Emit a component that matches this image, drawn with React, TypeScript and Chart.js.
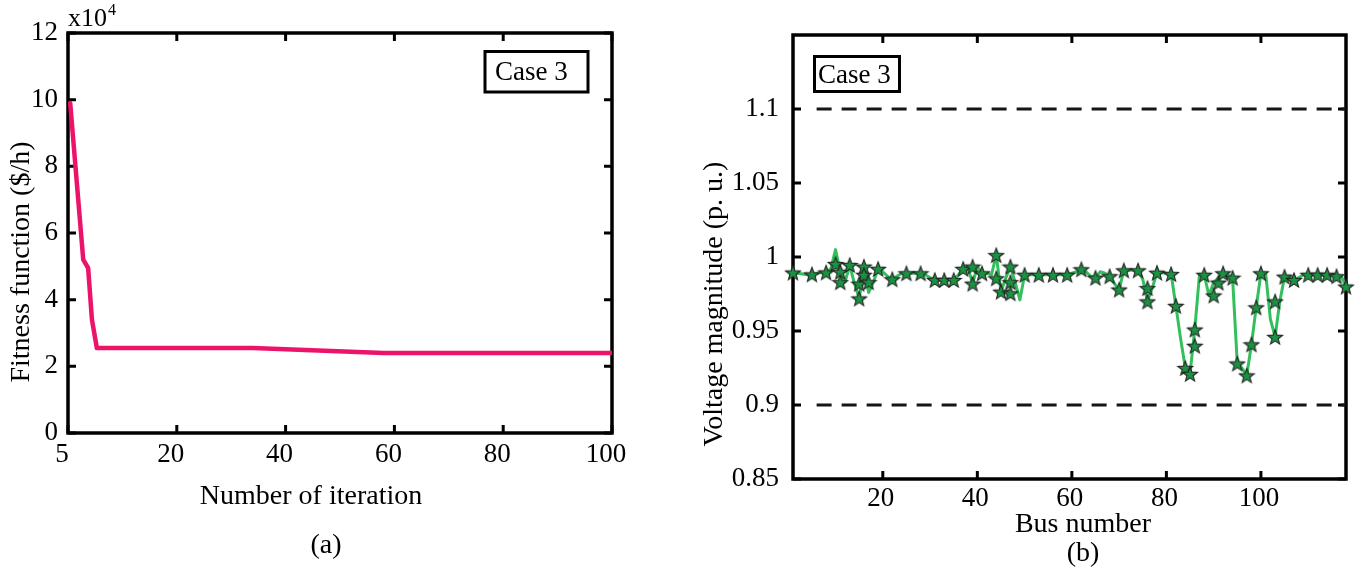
import React, { useEffect, useRef } from 'react';
import { Chart, registerables } from 'chart.js';

Chart.register(...registerables);

const SERIF = '"Liberation Serif", "Times New Roman", serif';
const PINK = '#ec1469';
const LINE_GREEN = '#33bf5c';
const STAR_GREEN = '#1b9142';

// ---------- Panel (a): fitness convergence ----------
const iterations = [0.4, 2.8, 3.7, 4.4, 5.3, 34, 58, 100];
const fitness = [9.9, 5.2, 4.95, 3.4, 2.55, 2.55, 2.4, 2.4]; // x10^4 $/h
const iterTicks = [0, 20, 40, 60, 80, 100];
const iterTickLabels = ['5', '20', '40', '60', '80', '100'];
const fitnessTicks = [0, 2, 4, 6, 8, 10, 12];

// ---------- Panel (b): bus voltage profile ----------
const busNumbers = Array.from({ length: 118 }, (_, i) => i + 1);
const busVoltage = [
  0.989, 0.989, 0.9885, 0.988, 0.988, 0.9888, 0.9895, 0.9895, 0.992, 1.005,
  0.99, 0.983, 0.9945, 0.982, 0.972, 0.9935, 0.976, 0.983, 0.992, 0.99,
  0.987, 0.985, 0.987, 0.989, 0.989, 0.989, 0.989, 0.989, 0.988, 0.986,
  0.9845, 0.9845, 0.9845, 0.985, 0.9845, 0.988, 0.992, 0.993, 0.982, 0.9935,
  0.989, 0.989, 0.988, 1.0013, 0.9766, 0.9856, 0.9935, 0.983, 0.971, 0.988,
  0.988, 0.988, 0.988, 0.988, 0.988, 0.988, 0.988, 0.988, 0.988, 0.989,
  0.99, 0.9917, 0.99, 0.987, 0.986, 0.99, 0.989, 0.987, 0.982, 0.978,
  0.991, 0.991, 0.991, 0.991, 0.985, 0.97, 0.979, 0.9894, 0.9894, 0.989,
  0.9885, 0.967, 0.945, 0.925, 0.921, 0.951, 0.988, 0.988, 0.974, 0.9827,
  0.986, 0.989, 0.988, 0.986, 0.928, 0.925, 0.92, 0.941, 0.966, 0.989,
  0.989, 0.958, 0.946, 0.97, 0.9867, 0.987, 0.9845, 0.986, 0.988, 0.988,
  0.988, 0.988, 0.988, 0.988, 0.988, 0.987, 0.987, 0.98,
];
const starBus = [
  1, 5, 8, 10, 11, 11, 13, 15, 15, 16, 16, 17, 19, 22, 25, 28, 31, 33, 35, 37,
  39, 39, 41, 44, 44, 45, 47, 47, 47, 50, 53, 56, 59, 62, 65, 68, 70, 71, 74, 76,
  76, 78, 81, 82, 84, 85, 86, 86, 88, 90, 91, 92, 94, 95, 97, 98, 99, 100, 103, 103,
  105, 107, 110, 112, 114, 116, 118,
];
const starVoltage = [
  0.9895, 0.9883, 0.9896, 0.9953, 0.99, 0.983, 0.9946, 0.982, 0.972, 0.9935,
  0.988, 0.983, 0.992, 0.985, 0.989, 0.989, 0.9845, 0.9845, 0.9845, 0.992,
  0.9935, 0.982, 0.989, 1.0013, 0.9856, 0.9766, 0.9935, 0.983, 0.9755, 0.988,
  0.988, 0.988, 0.988, 0.9917, 0.986, 0.987, 0.978, 0.991, 0.991, 0.979,
  0.97, 0.9894, 0.9885, 0.967, 0.925, 0.921, 0.951, 0.94, 0.988, 0.974,
  0.9827, 0.989, 0.986, 0.928, 0.92, 0.941, 0.966, 0.989, 0.946, 0.97,
  0.9867, 0.9845, 0.988, 0.988, 0.988, 0.987, 0.98,
];
const limitBus = [6, 118];
const upperLimit = [1.1, 1.1];
const lowerLimit = [0.9, 0.9];
const busTicks = [20, 40, 60, 80, 100];
const voltageTicks = [0.85, 0.9, 0.95, 1, 1.05, 1.1];

type Txt = { text: string; x: number; y: number; size: number; rot?: boolean; align?: CanvasTextAlign; baseline?: CanvasTextBaseline };
type Box = { x: number; y: number; w: number; h: number; text: string; tx: number; ty: number };

function makeStar(): HTMLCanvasElement {
  const c = document.createElement('canvas');
  const s = 18;
  c.width = s;
  c.height = s;
  const g = c.getContext('2d')!;
  const cx = s / 2, cy = s / 2 + 0.8, R = 7.8, r = 3.3;
  g.beginPath();
  for (let k = 0; k < 10; k++) {
    const ang = -Math.PI / 2 + (k * Math.PI) / 5;
    const rad = k % 2 === 0 ? R : r;
    const px = cx + rad * Math.cos(ang);
    const py = cy + rad * Math.sin(ang);
    if (k === 0) g.moveTo(px, py); else g.lineTo(px, py);
  }
  g.closePath();
  g.fillStyle = STAR_GREEN;
  g.fill();
  g.lineWidth = 1.1;
  g.strokeStyle = '#222';
  g.stroke();
  return c;
}

function makeDecor(id: string, texts: Txt[], boxes: Box[], exponent: boolean) {
  return {
    id,
    beforeDatasetsDraw(chart: any) {
      const { ctx, chartArea: a, scales } = chart;
      ctx.save();
      ctx.strokeStyle = '#000';
      ctx.lineWidth = 3.5;
      ctx.strokeRect(a.left, a.top, a.right - a.left, a.bottom - a.top);
      const L = 8;
      ctx.lineWidth = 3;
      ctx.beginPath();
      for (const t of scales.x.ticks) {
        const p = scales.x.getPixelForValue(t.value);
        ctx.moveTo(p, a.bottom); ctx.lineTo(p, a.bottom - L);
        ctx.moveTo(p, a.top); ctx.lineTo(p, a.top + L);
      }
      for (const t of scales.y.ticks) {
        const p = scales.y.getPixelForValue(t.value);
        ctx.moveTo(a.left, p); ctx.lineTo(a.left + L, p);
        ctx.moveTo(a.right, p); ctx.lineTo(a.right - L, p);
      }
      ctx.stroke();
      ctx.restore();
    },
    afterDraw(chart: any) {
      const { ctx, chartArea: a } = chart;
      ctx.save();
      ctx.fillStyle = '#000';
      for (const t of texts) {
        ctx.font = `${t.size}px ${SERIF}`;
        ctx.textAlign = t.align || 'center';
        ctx.textBaseline = t.baseline || 'middle';
        if (t.rot) {
          ctx.save();
          ctx.translate(t.x, t.y);
          ctx.rotate(-Math.PI / 2);
          ctx.fillText(t.text, 0, 0);
          ctx.restore();
        } else {
          ctx.fillText(t.text, t.x, t.y);
        }
      }
      for (const b of boxes) {
        ctx.fillStyle = '#fff';
        ctx.fillRect(b.x, b.y, b.w, b.h);
        ctx.strokeStyle = '#000';
        ctx.lineWidth = 3;
        ctx.strokeRect(b.x, b.y, b.w, b.h);
        ctx.fillStyle = '#000';
        ctx.font = `27px ${SERIF}`;
        ctx.textAlign = 'left';
        ctx.textBaseline = 'alphabetic';
        ctx.fillText(b.text, b.tx, b.ty);
      }
      if (exponent) {
        ctx.font = `26px ${SERIF}`;
        ctx.textAlign = 'left';
        ctx.textBaseline = 'alphabetic';
        ctx.fillText('x10', a.left, 26);
        const w = ctx.measureText('x10').width;
        ctx.font = `16px ${SERIF}`;
        ctx.fillText('4', a.left + w + 1, 15);
      }
      ctx.restore();
    },
  };
}

const tickFont = { family: SERIF, size: 27, lineHeight: 1.2 };

export default function App() {
  const leftRef = useRef<HTMLCanvasElement | null>(null);
  const rightRef = useRef<HTMLCanvasElement | null>(null);

  useEffect(() => {
    const star = makeStar();

    const left = new Chart(leftRef.current!, {
      type: 'scatter',
      data: {
        datasets: [
          {
            data: iterations.map((x, i) => ({ x, y: fitness[i] })),
            showLine: true,
            borderColor: PINK,
            backgroundColor: PINK,
            borderWidth: 4.5,
            pointRadius: 0,
            borderJoinStyle: 'round',
            borderCapStyle: 'round',
          } as any,
        ],
      },
      options: {
        responsive: false,
        animation: false,
        devicePixelRatio: 1,
        layout: { padding: { left: 0, top: 33, right: 68, bottom: 0 } },
        plugins: { legend: { display: false }, tooltip: { enabled: false } },
        scales: {
          x: {
            type: 'linear',
            min: 0,
            max: 100,
            afterBuildTicks: (s: any) => { s.ticks = iterTicks.map((v) => ({ value: v })); },
            afterFit: (s: any) => { s.height = 139; },
            grid: { display: false },
            border: { display: false },
            ticks: {
              font: tickFont, color: '#000', padding: -2, labelOffset: -6,
              maxRotation: 0, autoSkip: false,
              callback: (_v: any, i: number) => iterTickLabels[i],
            },
          },
          y: {
            type: 'linear',
            min: 0,
            max: 12,
            afterBuildTicks: (s: any) => { s.ticks = fitnessTicks.map((v) => ({ value: v })); },
            afterFit: (s: any) => { s.width = 68; },
            grid: { display: false },
            border: { display: false },
            ticks: { font: tickFont, color: '#000', padding: 2, autoSkip: false, callback: (v: any) => String(v) },
          },
        },
      } as any,
      plugins: [
        makeDecor(
          'decorA',
          [
            { text: 'Number of iteration', x: 311, y: 497, size: 28 },
            { text: '(a)', x: 326, y: 546, size: 28 },
            { text: 'Fitness function ($/h)', x: 22, y: 262, size: 28, rot: true },
          ],
          [{ x: 485, y: 51.5, w: 103, h: 40.5, text: 'Case 3', tx: 495, ty: 80 }],
          true,
        ) as any,
      ],
    });

    const right = new Chart(rightRef.current!, {
      type: 'scatter',
      data: {
        datasets: [
          {
            data: starBus.map((x, i) => ({ x, y: starVoltage[i] })),
            showLine: false,
            pointStyle: star,
            pointRadius: 8,
            clip: false,
          } as any,
          {
            data: busNumbers.map((x, i) => ({ x, y: busVoltage[i] })),
            showLine: true,
            borderColor: LINE_GREEN,
            borderWidth: 3,
            pointRadius: 0,
            borderJoinStyle: 'round',
          } as any,
          {
            data: limitBus.map((x, i) => ({ x, y: upperLimit[i] })),
            showLine: true,
            borderColor: '#151515',
            borderWidth: 3,
            borderDash: [15, 10],
            pointRadius: 0,
          } as any,
          {
            data: limitBus.map((x, i) => ({ x, y: lowerLimit[i] })),
            showLine: true,
            borderColor: '#151515',
            borderWidth: 3,
            borderDash: [15, 10],
            pointRadius: 0,
          } as any,
        ],
      },
      options: {
        responsive: false,
        animation: false,
        devicePixelRatio: 1,
        layout: { padding: { left: 0, top: 35, right: 15, bottom: 0 } },
        plugins: { legend: { display: false }, tooltip: { enabled: false } },
        scales: {
          x: {
            type: 'linear',
            min: 1,
            max: 118,
            afterBuildTicks: (s: any) => { s.ticks = busTicks.map((v) => ({ value: v })); },
            afterFit: (s: any) => { s.height = 93; },
            grid: { display: false },
            border: { display: false },
            ticks: {
              font: tickFont, color: '#000', padding: -4, labelOffset: -2,
              maxRotation: 0, autoSkip: false, callback: (v: any) => String(v),
            },
          },
          y: {
            type: 'linear',
            min: 0.85,
            max: 1.15,
            afterBuildTicks: (s: any) => { s.ticks = voltageTicks.map((v) => ({ value: v })); },
            afterFit: (s: any) => { s.width = 113; },
            grid: { display: false },
            border: { display: false },
            ticks: { font: tickFont, color: '#000', padding: 6, autoSkip: false, callback: (v: any) => String(v) },
          },
        },
      } as any,
      plugins: [
        makeDecor(
          'decorB',
          [
            { text: 'Bus number', x: 403, y: 525, size: 28 },
            { text: '(b)', x: 403, y: 554, size: 28 },
            { text: 'Voltage magnitude (p. u.)', x: 35, y: 304, size: 28, rot: true },
          ],
          [{ x: 134.5, y: 56.5, w: 85, h: 35, text: 'Case 3', tx: 138, ty: 83 }],
          false,
        ) as any,
      ],
    });

    return () => {
      left.destroy();
      right.destroy();
    };
  }, []);

  return (
    <div style={{ position: 'absolute', left: 0, top: 0, width: 1361, height: 572, background: '#fff', overflow: 'hidden' }}>
      <canvas ref={leftRef} width={680} height={572} style={{ position: 'absolute', left: 0, top: 0 }} />
      <canvas ref={rightRef} width={681} height={572} style={{ position: 'absolute', left: 680, top: 0 }} />
    </div>
  );
}
